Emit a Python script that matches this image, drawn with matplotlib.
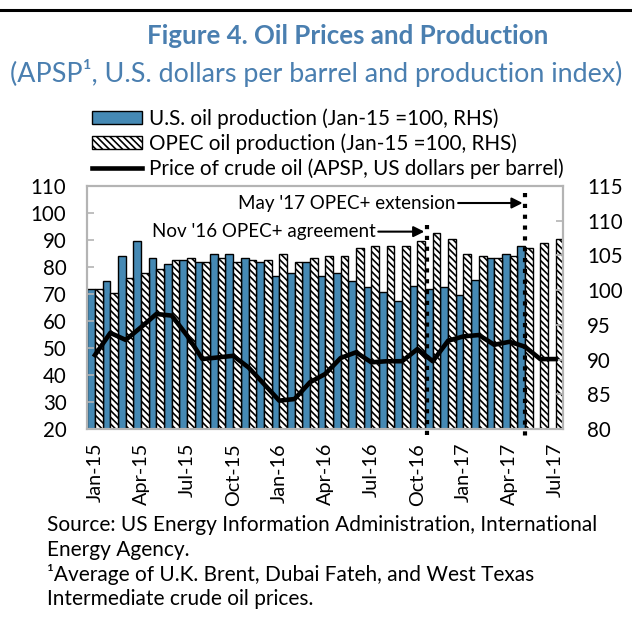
import matplotlib
matplotlib.use("Agg")
import matplotlib.pyplot as plt
from matplotlib.patches import Patch
from matplotlib.lines import Line2D
import numpy as np

plt.rcParams['font.family'] = ['Lato', 'DejaVu Sans']
plt.rcParams['hatch.linewidth'] = 1.2
plt.rcParams['hatch.color'] = '#222222'

months = ['Jan-15', 'Feb-15', 'Mar-15', 'Apr-15', 'May-15', 'Jun-15', 'Jul-15', 'Aug-15',
          'Sep-15', 'Oct-15', 'Nov-15', 'Dec-15', 'Jan-16', 'Feb-16', 'Mar-16', 'Apr-16',
          'May-16', 'Jun-16', 'Jul-16', 'Aug-16', 'Sep-16', 'Oct-16', 'Nov-16', 'Dec-16',
          'Jan-17', 'Feb-17', 'Mar-17', 'Apr-17', 'May-17', 'Jun-17', 'Jul-17']

us_production = [100.2, 101.3, 104.9, 107.1, 104.6, 103.8, 104.3, 104.05, 105.2, 105.2,
                 104.6, 104.05, 102.1, 102.4, 104.05, 102.1, 102.4, 101.3, 100.4, 99.8,
                 98.4, 100.6, 100.1, 100.4, 99.3, 101.5, 104.6, 105.2, 106.3, np.nan, np.nan]

opec_production = [100.2, 99.6, 101.8, 102.4, 103.0, 104.3, 104.6, 104.05, 104.6, 104.05,
                   104.3, 104.3, 105.2, 104.05, 104.6, 104.9, 104.9, 106.0, 106.3, 106.3,
                   106.3, 107.1, 108.2, 107.4, 105.2, 104.95, 104.6, 104.95, 106.0, 106.8, 107.4]

oil_price = [47.4, 55.6, 53.0, 57.7, 62.6, 62.0, 54.6, 45.9, 46.5, 47.1, 42.8, 36.7,
             30.5, 31.1, 37.3, 40.4, 46.3, 48.4, 44.7, 45.1, 45.1, 49.6, 45.1, 52.7,
             54.3, 54.8, 51.2, 52.3, 50.5, 45.9, 45.9]

tick_labels = ['Jan-15', 'Apr-15', 'Jul-15', 'Oct-15', 'Jan-16', 'Apr-16', 'Jul-16',
               'Oct-16', 'Jan-17', 'Apr-17', 'Jul-17']

event_labels = ["Nov '16 OPEC+ agreement", "May '17 OPEC+ extension"]
event_x = [21.6, 28.0]

BLUE = '#4589b4'
TITLE_BLUE = '#4a7fb0'
GRAY = '#b4b4b4'

W, H = 632, 635
fig = plt.figure(figsize=(W / 100, H / 100), dpi=100)

# top rule
fig.add_artist(Line2D([0, 1], [1 - 10 / H, 1 - 10 / H], transform=fig.transFigure,
                      color='black', lw=2.2))
fig.text(348 / W, 1 - 36 / H, 'Figure 4. Oil Prices and Production', ha='center', va='center',
         fontsize=18.6, fontweight='bold', color=TITLE_BLUE)
fig.text(316 / W, 1 - 73 / H, '(APSP¹, U.S. dollars per barrel and production index)',
         ha='center', va='center', fontsize=19.4, color=TITLE_BLUE)

left, right, top, bottom = 87.3, 563.3, 186, 429
ax = fig.add_axes([left / W, 1 - bottom / H, (right - left) / W, (bottom - top) / H])
ax2 = ax.twinx()
ax.set_zorder(ax2.get_zorder() + 1)
ax.patch.set_visible(False)

x = np.arange(len(months))
ax2.bar(x - 0.25, us_production, width=0.5, color=BLUE, edgecolor='black', linewidth=1.0)
ax2.bar(x + 0.25, opec_production, width=0.5, color='white', edgecolor='black',
        linewidth=1.0, hatch='\\\\\\\\\\')
ax2.set_ylim(80, 115)
ax2.set_yticks(np.arange(80, 116, 5))

ax.plot(x, oil_price, color='black', lw=3.3, zorder=5)
ax.set_ylim(20, 110)
ax.set_yticks(np.arange(20, 111, 10))
ax.set_xlim(-0.5, 30.5)
ax.set_xticks(np.arange(0, 31, 3))
ax.set_xticklabels(tick_labels, rotation=90)

for a in (ax, ax2):
    for s in a.spines.values():
        s.set_color(GRAY)
        s.set_linewidth(1.5)
ax.tick_params(axis='y', direction='in', length=5, width=1.2, color=GRAY, labelsize=14.8, pad=15)
ax2.tick_params(axis='y', direction='in', length=5, width=1.2, color=GRAY, labelsize=14.8, pad=17)
ax.tick_params(axis='x', length=0, labelsize=14.3, pad=10)

# event markers
ev_top = [95.6, 107.4]
for ex, et in zip(event_x, ev_top):
    ax.plot([ex, ex], [et, 15.4], color='black', lw=3, linestyle=(0, (1, 1.6)),
            dash_capstyle='butt', clip_on=False, zorder=6)

ax.text(18.3, 93.1, event_labels[0], ha='right', va='center', fontsize=13.5)
ax.annotate('', xy=(event_x[0] - 0.15, 93.1), xytext=(18.45, 93.1),
            arrowprops=dict(arrowstyle='-|>', color='black', lw=1.5, mutation_scale=16,
                            shrinkA=0, shrinkB=0))
ax.text(23.45, 103.7, event_labels[1], ha='right', va='center', fontsize=13.5)
ax.annotate('', xy=(event_x[1] - 0.15, 103.7), xytext=(23.65, 103.7),
            arrowprops=dict(arrowstyle='-|>', color='black', lw=1.5, mutation_scale=16,
                            shrinkA=0, shrinkB=0))

handles = [Patch(facecolor=BLUE, edgecolor='black', linewidth=1.0),
           Patch(facecolor='white', edgecolor='black', linewidth=1.0, hatch='\\\\\\\\\\'),
           Line2D([0], [0], color='black', lw=3.3)]
labels = ['U.S. oil production (Jan-15 =100, RHS)',
          'OPEC oil production (Jan-15 =100, RHS)',
          'Price of crude oil (APSP, US dollars per barrel)']
fig.legend(handles, labels, loc='upper left', bbox_to_anchor=(92 / W, 1 - 108 / H),
           frameon=False, fontsize=14.9, handlelength=2.4, handleheight=0.55,
           handletextpad=0.35, labelspacing=0.22, borderpad=0, borderaxespad=0)

src = ['Source: US Energy Information Administration, International',
       'Energy Agency.',
       '¹Average of U.K. Brent, Dubai Fateh, and West Texas',
       'Intermediate crude oil prices.']
for i, line in enumerate(src):
    fig.text(47 / W, 1 - (525 + 24.7 * i) / H, line, ha='left', va='center', fontsize=15)

fig.savefig('out.png', dpi=100)
